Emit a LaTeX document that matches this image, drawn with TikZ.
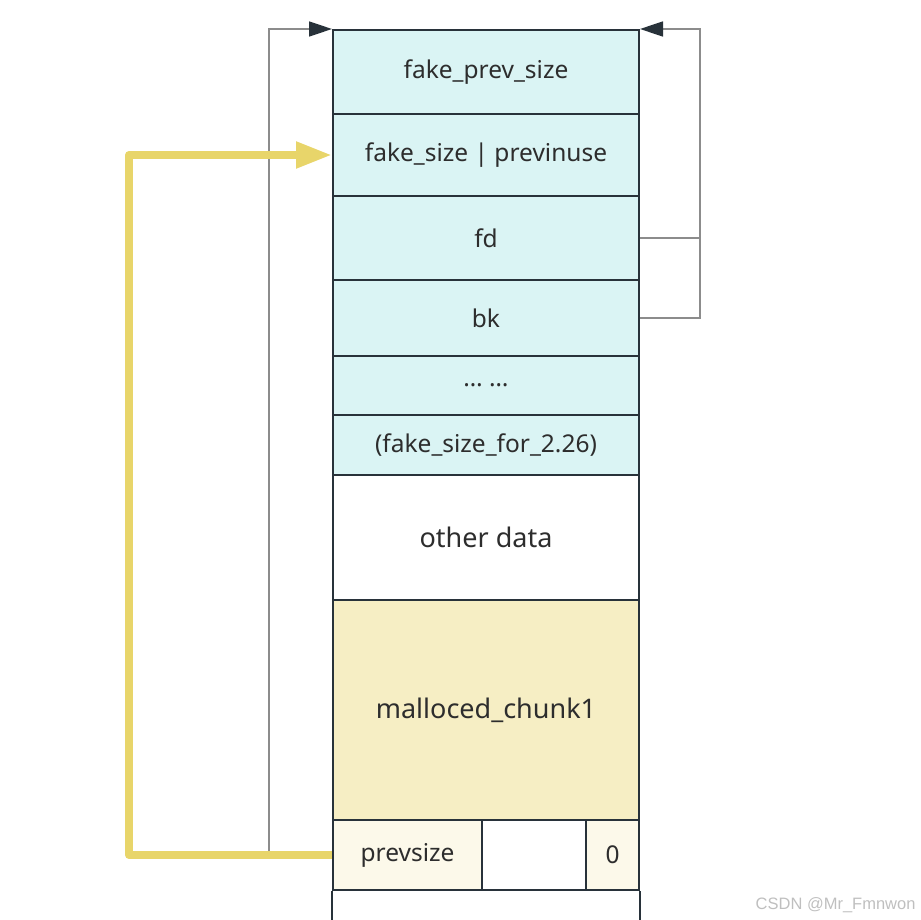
\documentclass[tikz,border=0pt]{standalone}
\usepackage{fontspec}
\setmainfont{Noto Sans}
\newfontfamily\markfont{Liberation Sans}
\usepackage{tikz}
\usetikzlibrary{arrows.meta}
\usepackage{xcolor}
\definecolor{ColCyan}{RGB}{218,244,244}
\definecolor{ColChunk}{RGB}{246,238,196}
\definecolor{ColHead}{RGB}{252,249,234}
\definecolor{ColEdge}{RGB}{40,50,58}
\definecolor{ColGold}{RGB}{232,213,106}
\definecolor{ColPtr}{RGB}{140,140,140}
\definecolor{ColText}{RGB}{45,45,45}
\tikzstyle{Cell}=[rectangle,draw=ColEdge,line width=2pt,inner sep=0pt,
minimum width=306pt,text=ColText,font=\fontsize{24.5}{28}\selectfont]
\tikzstyle{CellFake}=[Cell,fill=ColCyan]
\tikzstyle{CellHead}=[Cell,fill=ColHead]
\tikzstyle{CellBig}=[Cell,font=\fontsize{27}{30}\selectfont]
\tikzstyle{LinkPtr}=[ColPtr,line width=1.6pt,
-{Triangle[length=23pt,width=15pt,color=ColEdge]}]
\tikzstyle{LinkFake}=[ColGold,line width=8pt,line join=round,
-{Triangle[length=36pt,width=25pt]}]

\begin{document}
\begin{tikzpicture}[x=1pt,y=-1pt]
        \useasboundingbox (0,0) rectangle (921,920);
        % fake chunk
        \node[CellFake,minimum height=84pt](prev)at(486,72){fake\_prev\_size};
        \node[CellFake,minimum height=82pt](size)at(486,155){fake\_size | previnuse};
        \node[CellFake,minimum height=84pt](fd)at(486,238){fd};
        \node[CellFake,minimum height=76pt](bk)at(486,318){bk};
        \node[CellFake,minimum height=59pt](dots)at(486,385.5){\dots\ \dots};
        \node[CellFake,minimum height=60pt](next)at(486,445){(fake\_size\_for\_2.26)};
        \node[CellBig,minimum height=125pt](other)at(486,537.5){other data};
        \node[CellBig,fill=ColChunk,minimum height=220pt](chunk)at(486,710){malloced\_chunk1};
        % header of the next chunk
        \node[CellHead,minimum width=149pt,minimum height=70pt](psize)at(407.5,855){prevsize};
        \node[Cell,minimum width=104pt,minimum height=70pt](flags)at(534,855){};
        \node[CellHead,minimum width=53pt,minimum height=70pt](pbit)at(612.5,855){0};
        \draw[ColEdge,line width=2pt](psize.south west)--++(0,32);
        \draw[ColEdge,line width=2pt](pbit.south east)--++(0,32);
        % pointers
        \coordinate(fdout)at(700,238);
        \draw[LinkPtr](psize.west)--++(-63,0)|-(prev.north west);
        \draw[LinkPtr](fd.east)--(fdout)|-(prev.north east);
        \draw[ColPtr,line width=1.6pt](bk.east)-|(fdout);
        \draw[LinkFake](psize.west)--++(-203,0)|-(size.west);
        \node[text=black!25,font=\markfont\fontsize{16.5}{18}\selectfont,anchor=east](mark)at(919,905){CSDN @Mr\_Fmnwon};
    \end{tikzpicture}
\end{document}
